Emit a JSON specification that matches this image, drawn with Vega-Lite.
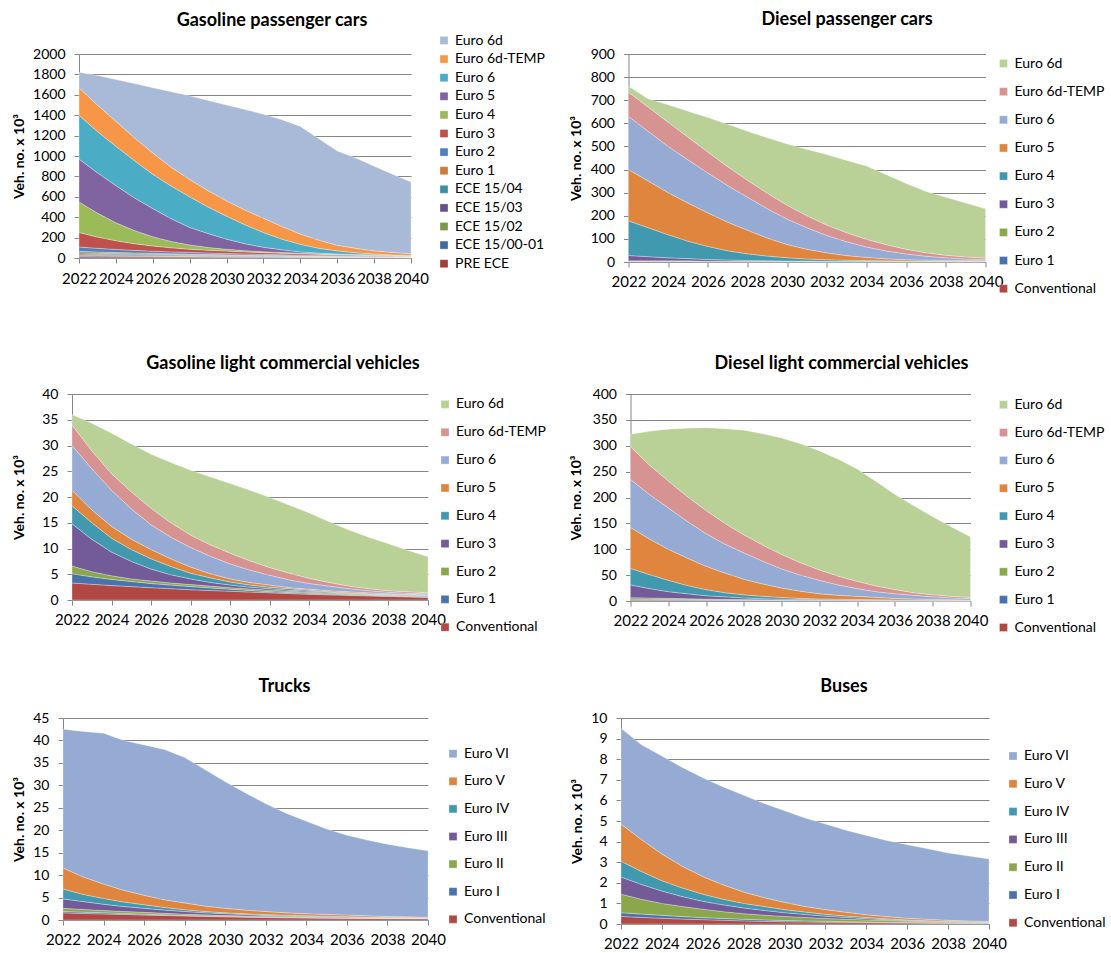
{
"$schema": "https://vega.github.io/schema/vega-lite/v6.json",
"padding": {"left": 11, "top": 11, "right": 0, "bottom": 0},
"background": "white",
"config": {
  "font": "Lato",
  "view": {"stroke": null},
  "axis": {"labelFont": "Lato", "labelFontSize": 14, "labelColor": "#000000", "titleFont": "Lato", "titleFontSize": 14, "titleFontWeight": "bold", "titleColor": "#000000", "domainColor": "#868686", "tickColor": "#868686", "gridColor": "#868686", "tickSize": 5, "domainWidth": 1, "tickWidth": 1, "gridWidth": 1},
  "axisX": {"grid": false, "labelPadding": 7, "labelFontSize": 15, "labelOverlap": false, "labelFlush": false, "labelExpr": "datum.value % 2 == 0 ? datum.label : ''", "format": "d", "values": [2022,2023,2024,2025,2026,2027,2028,2029,2030,2031,2032,2033,2034,2035,2036,2037,2038,2039,2040]},
  "axisY": {"grid": true, "labelPadding": 9, "labelOverlap": false, "format": "d"},
  "title": {"font": "Lato", "fontSize": 18, "fontWeight": "bold", "color": "#000000", "anchor": "middle", "frame": "group", "offset": 15},
  "legend": {"title": null, "orient": "none", "symbolType": "square", "symbolSize": 64, "symbolStrokeWidth": 0, "labelFont": "Lato", "labelFontSize": 14, "labelColor": "#000000", "labelOffset": 4},
  "area": {"stroke": "#ffffff", "strokeWidth": 0.5, "strokeOpacity": 0.6, "interpolate": "linear"}
},
"datasets": {
"gpc": [
{"s":"PRE ECE","k":0,"t":2022,"v":12},{"s":"PRE ECE","k":0,"t":2023,"v":11},{"s":"PRE ECE","k":0,"t":2024,"v":11},{"s":"PRE ECE","k":0,"t":2025,"v":10},{"s":"PRE ECE","k":0,"t":2026,"v":10},{"s":"PRE ECE","k":0,"t":2027,"v":9},{"s":"PRE ECE","k":0,"t":2028,"v":9},{"s":"PRE ECE","k":0,"t":2029,"v":8},{"s":"PRE ECE","k":0,"t":2030,"v":8},{"s":"PRE ECE","k":0,"t":2031,"v":7},{"s":"PRE ECE","k":0,"t":2032,"v":7},{"s":"PRE ECE","k":0,"t":2033,"v":6},{"s":"PRE ECE","k":0,"t":2034,"v":6},{"s":"PRE ECE","k":0,"t":2035,"v":5},{"s":"PRE ECE","k":0,"t":2036,"v":5},{"s":"PRE ECE","k":0,"t":2037,"v":4},{"s":"PRE ECE","k":0,"t":2038,"v":4},{"s":"PRE ECE","k":0,"t":2039,"v":4},{"s":"PRE ECE","k":0,"t":2040,"v":3},
{"s":"ECE 15/00-01","k":1,"t":2022,"v":8},{"s":"ECE 15/00-01","k":1,"t":2023,"v":8},{"s":"ECE 15/00-01","k":1,"t":2024,"v":7},{"s":"ECE 15/00-01","k":1,"t":2025,"v":7},{"s":"ECE 15/00-01","k":1,"t":2026,"v":6},{"s":"ECE 15/00-01","k":1,"t":2027,"v":6},{"s":"ECE 15/00-01","k":1,"t":2028,"v":5},{"s":"ECE 15/00-01","k":1,"t":2029,"v":5},{"s":"ECE 15/00-01","k":1,"t":2030,"v":5},{"s":"ECE 15/00-01","k":1,"t":2031,"v":4},{"s":"ECE 15/00-01","k":1,"t":2032,"v":4},{"s":"ECE 15/00-01","k":1,"t":2033,"v":4},{"s":"ECE 15/00-01","k":1,"t":2034,"v":3},{"s":"ECE 15/00-01","k":1,"t":2035,"v":3},{"s":"ECE 15/00-01","k":1,"t":2036,"v":3},{"s":"ECE 15/00-01","k":1,"t":2037,"v":2},{"s":"ECE 15/00-01","k":1,"t":2038,"v":2},{"s":"ECE 15/00-01","k":1,"t":2039,"v":2},{"s":"ECE 15/00-01","k":1,"t":2040,"v":2},
{"s":"ECE 15/02","k":2,"t":2022,"v":8},{"s":"ECE 15/02","k":2,"t":2023,"v":7},{"s":"ECE 15/02","k":2,"t":2024,"v":7},{"s":"ECE 15/02","k":2,"t":2025,"v":6},{"s":"ECE 15/02","k":2,"t":2026,"v":6},{"s":"ECE 15/02","k":2,"t":2027,"v":5},{"s":"ECE 15/02","k":2,"t":2028,"v":5},{"s":"ECE 15/02","k":2,"t":2029,"v":5},{"s":"ECE 15/02","k":2,"t":2030,"v":4},{"s":"ECE 15/02","k":2,"t":2031,"v":4},{"s":"ECE 15/02","k":2,"t":2032,"v":4},{"s":"ECE 15/02","k":2,"t":2033,"v":3},{"s":"ECE 15/02","k":2,"t":2034,"v":3},{"s":"ECE 15/02","k":2,"t":2035,"v":3},{"s":"ECE 15/02","k":2,"t":2036,"v":2},{"s":"ECE 15/02","k":2,"t":2037,"v":2},{"s":"ECE 15/02","k":2,"t":2038,"v":2},{"s":"ECE 15/02","k":2,"t":2039,"v":2},{"s":"ECE 15/02","k":2,"t":2040,"v":1},
{"s":"ECE 15/03","k":3,"t":2022,"v":10},{"s":"ECE 15/03","k":3,"t":2023,"v":9},{"s":"ECE 15/03","k":3,"t":2024,"v":8},{"s":"ECE 15/03","k":3,"t":2025,"v":8},{"s":"ECE 15/03","k":3,"t":2026,"v":7},{"s":"ECE 15/03","k":3,"t":2027,"v":7},{"s":"ECE 15/03","k":3,"t":2028,"v":6},{"s":"ECE 15/03","k":3,"t":2029,"v":6},{"s":"ECE 15/03","k":3,"t":2030,"v":5},{"s":"ECE 15/03","k":3,"t":2031,"v":5},{"s":"ECE 15/03","k":3,"t":2032,"v":4},{"s":"ECE 15/03","k":3,"t":2033,"v":4},{"s":"ECE 15/03","k":3,"t":2034,"v":3},{"s":"ECE 15/03","k":3,"t":2035,"v":3},{"s":"ECE 15/03","k":3,"t":2036,"v":3},{"s":"ECE 15/03","k":3,"t":2037,"v":2},{"s":"ECE 15/03","k":3,"t":2038,"v":2},{"s":"ECE 15/03","k":3,"t":2039,"v":2},{"s":"ECE 15/03","k":3,"t":2040,"v":1},
{"s":"ECE 15/04","k":4,"t":2022,"v":12},{"s":"ECE 15/04","k":4,"t":2023,"v":11},{"s":"ECE 15/04","k":4,"t":2024,"v":10},{"s":"ECE 15/04","k":4,"t":2025,"v":9},{"s":"ECE 15/04","k":4,"t":2026,"v":8},{"s":"ECE 15/04","k":4,"t":2027,"v":7},{"s":"ECE 15/04","k":4,"t":2028,"v":6},{"s":"ECE 15/04","k":4,"t":2029,"v":6},{"s":"ECE 15/04","k":4,"t":2030,"v":5},{"s":"ECE 15/04","k":4,"t":2031,"v":5},{"s":"ECE 15/04","k":4,"t":2032,"v":4},{"s":"ECE 15/04","k":4,"t":2033,"v":4},{"s":"ECE 15/04","k":4,"t":2034,"v":3},{"s":"ECE 15/04","k":4,"t":2035,"v":3},{"s":"ECE 15/04","k":4,"t":2036,"v":2},{"s":"ECE 15/04","k":4,"t":2037,"v":2},{"s":"ECE 15/04","k":4,"t":2038,"v":2},{"s":"ECE 15/04","k":4,"t":2039,"v":1},{"s":"ECE 15/04","k":4,"t":2040,"v":1},
{"s":"Euro 1","k":5,"t":2022,"v":15},{"s":"Euro 1","k":5,"t":2023,"v":13},{"s":"Euro 1","k":5,"t":2024,"v":11},{"s":"Euro 1","k":5,"t":2025,"v":10},{"s":"Euro 1","k":5,"t":2026,"v":9},{"s":"Euro 1","k":5,"t":2027,"v":8},{"s":"Euro 1","k":5,"t":2028,"v":7},{"s":"Euro 1","k":5,"t":2029,"v":6},{"s":"Euro 1","k":5,"t":2030,"v":5},{"s":"Euro 1","k":5,"t":2031,"v":4},{"s":"Euro 1","k":5,"t":2032,"v":4},{"s":"Euro 1","k":5,"t":2033,"v":3},{"s":"Euro 1","k":5,"t":2034,"v":3},{"s":"Euro 1","k":5,"t":2035,"v":2},{"s":"Euro 1","k":5,"t":2036,"v":2},{"s":"Euro 1","k":5,"t":2037,"v":2},{"s":"Euro 1","k":5,"t":2038,"v":1},{"s":"Euro 1","k":5,"t":2039,"v":1},{"s":"Euro 1","k":5,"t":2040,"v":1},
{"s":"Euro 2","k":6,"t":2022,"v":43},{"s":"Euro 2","k":6,"t":2023,"v":36},{"s":"Euro 2","k":6,"t":2024,"v":30},{"s":"Euro 2","k":6,"t":2025,"v":25},{"s":"Euro 2","k":6,"t":2026,"v":21},{"s":"Euro 2","k":6,"t":2027,"v":18},{"s":"Euro 2","k":6,"t":2028,"v":16},{"s":"Euro 2","k":6,"t":2029,"v":13},{"s":"Euro 2","k":6,"t":2030,"v":12},{"s":"Euro 2","k":6,"t":2031,"v":11},{"s":"Euro 2","k":6,"t":2032,"v":9},{"s":"Euro 2","k":6,"t":2033,"v":8},{"s":"Euro 2","k":6,"t":2034,"v":7},{"s":"Euro 2","k":6,"t":2035,"v":6},{"s":"Euro 2","k":6,"t":2036,"v":5},{"s":"Euro 2","k":6,"t":2037,"v":5},{"s":"Euro 2","k":6,"t":2038,"v":4},{"s":"Euro 2","k":6,"t":2039,"v":3},{"s":"Euro 2","k":6,"t":2040,"v":3},
{"s":"Euro 3","k":7,"t":2022,"v":142},{"s":"Euro 3","k":7,"t":2023,"v":110},{"s":"Euro 3","k":7,"t":2024,"v":86},{"s":"Euro 3","k":7,"t":2025,"v":65},{"s":"Euro 3","k":7,"t":2026,"v":51},{"s":"Euro 3","k":7,"t":2027,"v":40},{"s":"Euro 3","k":7,"t":2028,"v":33},{"s":"Euro 3","k":7,"t":2029,"v":28},{"s":"Euro 3","k":7,"t":2030,"v":24},{"s":"Euro 3","k":7,"t":2031,"v":20},{"s":"Euro 3","k":7,"t":2032,"v":17},{"s":"Euro 3","k":7,"t":2033,"v":15},{"s":"Euro 3","k":7,"t":2034,"v":13},{"s":"Euro 3","k":7,"t":2035,"v":11},{"s":"Euro 3","k":7,"t":2036,"v":9},{"s":"Euro 3","k":7,"t":2037,"v":8},{"s":"Euro 3","k":7,"t":2038,"v":6},{"s":"Euro 3","k":7,"t":2039,"v":4},{"s":"Euro 3","k":7,"t":2040,"v":3},
{"s":"Euro 4","k":8,"t":2022,"v":300},{"s":"Euro 4","k":8,"t":2023,"v":235},{"s":"Euro 4","k":8,"t":2024,"v":175},{"s":"Euro 4","k":8,"t":2025,"v":130},{"s":"Euro 4","k":8,"t":2026,"v":90},{"s":"Euro 4","k":8,"t":2027,"v":62},{"s":"Euro 4","k":8,"t":2028,"v":41},{"s":"Euro 4","k":8,"t":2029,"v":26},{"s":"Euro 4","k":8,"t":2030,"v":17},{"s":"Euro 4","k":8,"t":2031,"v":12},{"s":"Euro 4","k":8,"t":2032,"v":9},{"s":"Euro 4","k":8,"t":2033,"v":7},{"s":"Euro 4","k":8,"t":2034,"v":6},{"s":"Euro 4","k":8,"t":2035,"v":5},{"s":"Euro 4","k":8,"t":2036,"v":5},{"s":"Euro 4","k":8,"t":2037,"v":5},{"s":"Euro 4","k":8,"t":2038,"v":5},{"s":"Euro 4","k":8,"t":2039,"v":5},{"s":"Euro 4","k":8,"t":2040,"v":4},
{"s":"Euro 5","k":9,"t":2022,"v":420},{"s":"Euro 5","k":9,"t":2023,"v":395},{"s":"Euro 5","k":9,"t":2024,"v":365},{"s":"Euro 5","k":9,"t":2025,"v":320},{"s":"Euro 5","k":9,"t":2026,"v":277},{"s":"Euro 5","k":9,"t":2027,"v":223},{"s":"Euro 5","k":9,"t":2028,"v":172},{"s":"Euro 5","k":9,"t":2029,"v":137},{"s":"Euro 5","k":9,"t":2030,"v":100},{"s":"Euro 5","k":9,"t":2031,"v":68},{"s":"Euro 5","k":9,"t":2032,"v":43},{"s":"Euro 5","k":9,"t":2033,"v":26},{"s":"Euro 5","k":9,"t":2034,"v":13},{"s":"Euro 5","k":9,"t":2035,"v":7},{"s":"Euro 5","k":9,"t":2036,"v":4},{"s":"Euro 5","k":9,"t":2037,"v":3},{"s":"Euro 5","k":9,"t":2038,"v":3},{"s":"Euro 5","k":9,"t":2039,"v":3},{"s":"Euro 5","k":9,"t":2040,"v":3},
{"s":"Euro 6","k":10,"t":2022,"v":430},{"s":"Euro 6","k":10,"t":2023,"v":405},{"s":"Euro 6","k":10,"t":2024,"v":385},{"s":"Euro 6","k":10,"t":2025,"v":365},{"s":"Euro 6","k":10,"t":2026,"v":335},{"s":"Euro 6","k":10,"t":2027,"v":320},{"s":"Euro 6","k":10,"t":2028,"v":300},{"s":"Euro 6","k":10,"t":2029,"v":260},{"s":"Euro 6","k":10,"t":2030,"v":225},{"s":"Euro 6","k":10,"t":2031,"v":185},{"s":"Euro 6","k":10,"t":2032,"v":145},{"s":"Euro 6","k":10,"t":2033,"v":105},{"s":"Euro 6","k":10,"t":2034,"v":75},{"s":"Euro 6","k":10,"t":2035,"v":47},{"s":"Euro 6","k":10,"t":2036,"v":30},{"s":"Euro 6","k":10,"t":2037,"v":17},{"s":"Euro 6","k":10,"t":2038,"v":9},{"s":"Euro 6","k":10,"t":2039,"v":3},{"s":"Euro 6","k":10,"t":2040,"v":3},
{"s":"Euro 6d-TEMP","k":11,"t":2022,"v":270},{"s":"Euro 6d-TEMP","k":11,"t":2023,"v":260},{"s":"Euro 6d-TEMP","k":11,"t":2024,"v":245},{"s":"Euro 6d-TEMP","k":11,"t":2025,"v":225},{"s":"Euro 6d-TEMP","k":11,"t":2026,"v":210},{"s":"Euro 6d-TEMP","k":11,"t":2027,"v":185},{"s":"Euro 6d-TEMP","k":11,"t":2028,"v":170},{"s":"Euro 6d-TEMP","k":11,"t":2029,"v":160},{"s":"Euro 6d-TEMP","k":11,"t":2030,"v":150},{"s":"Euro 6d-TEMP","k":11,"t":2031,"v":145},{"s":"Euro 6d-TEMP","k":11,"t":2032,"v":140},{"s":"Euro 6d-TEMP","k":11,"t":2033,"v":125},{"s":"Euro 6d-TEMP","k":11,"t":2034,"v":100},{"s":"Euro 6d-TEMP","k":11,"t":2035,"v":80},{"s":"Euro 6d-TEMP","k":11,"t":2036,"v":55},{"s":"Euro 6d-TEMP","k":11,"t":2037,"v":43},{"s":"Euro 6d-TEMP","k":11,"t":2038,"v":30},{"s":"Euro 6d-TEMP","k":11,"t":2039,"v":25},{"s":"Euro 6d-TEMP","k":11,"t":2040,"v":17},
{"s":"Euro 6d","k":12,"t":2022,"v":150},{"s":"Euro 6d","k":12,"t":2023,"v":290},{"s":"Euro 6d","k":12,"t":2024,"v":410},{"s":"Euro 6d","k":12,"t":2025,"v":530},{"s":"Euro 6d","k":12,"t":2026,"v":640},{"s":"Euro 6d","k":12,"t":2027,"v":740},{"s":"Euro 6d","k":12,"t":2028,"v":820},{"s":"Euro 6d","k":12,"t":2029,"v":885},{"s":"Euro 6d","k":12,"t":2030,"v":940},{"s":"Euro 6d","k":12,"t":2031,"v":985},{"s":"Euro 6d","k":12,"t":2032,"v":1020},{"s":"Euro 6d","k":12,"t":2033,"v":1045},{"s":"Euro 6d","k":12,"t":2034,"v":1055},{"s":"Euro 6d","k":12,"t":2035,"v":995},{"s":"Euro 6d","k":12,"t":2036,"v":925},{"s":"Euro 6d","k":12,"t":2037,"v":885},{"s":"Euro 6d","k":12,"t":2038,"v":830},{"s":"Euro 6d","k":12,"t":2039,"v":765},{"s":"Euro 6d","k":12,"t":2040,"v":703}
],
"dpc": [
{"s":"Conventional","k":0,"t":2022,"v":2},{"s":"Conventional","k":0,"t":2023,"v":2},{"s":"Conventional","k":0,"t":2024,"v":2},{"s":"Conventional","k":0,"t":2025,"v":2},{"s":"Conventional","k":0,"t":2026,"v":1},{"s":"Conventional","k":0,"t":2027,"v":1},{"s":"Conventional","k":0,"t":2028,"v":1},{"s":"Conventional","k":0,"t":2029,"v":1},{"s":"Conventional","k":0,"t":2030,"v":1},{"s":"Conventional","k":0,"t":2031,"v":1},{"s":"Conventional","k":0,"t":2032,"v":1},{"s":"Conventional","k":0,"t":2033,"v":1},{"s":"Conventional","k":0,"t":2034,"v":1},{"s":"Conventional","k":0,"t":2035,"v":1},{"s":"Conventional","k":0,"t":2036,"v":1},{"s":"Conventional","k":0,"t":2037,"v":1},{"s":"Conventional","k":0,"t":2038,"v":1},{"s":"Conventional","k":0,"t":2039,"v":1},{"s":"Conventional","k":0,"t":2040,"v":1},
{"s":"Euro 1","k":1,"t":2022,"v":1},{"s":"Euro 1","k":1,"t":2023,"v":1},{"s":"Euro 1","k":1,"t":2024,"v":1},{"s":"Euro 1","k":1,"t":2025,"v":1},{"s":"Euro 1","k":1,"t":2026,"v":1},{"s":"Euro 1","k":1,"t":2027,"v":1},{"s":"Euro 1","k":1,"t":2028,"v":1},{"s":"Euro 1","k":1,"t":2029,"v":1},{"s":"Euro 1","k":1,"t":2030,"v":1},{"s":"Euro 1","k":1,"t":2031,"v":1},{"s":"Euro 1","k":1,"t":2032,"v":0.5},{"s":"Euro 1","k":1,"t":2033,"v":0.5},{"s":"Euro 1","k":1,"t":2034,"v":0.5},{"s":"Euro 1","k":1,"t":2035,"v":0.5},{"s":"Euro 1","k":1,"t":2036,"v":0.5},{"s":"Euro 1","k":1,"t":2037,"v":0.5},{"s":"Euro 1","k":1,"t":2038,"v":0.5},{"s":"Euro 1","k":1,"t":2039,"v":0.5},{"s":"Euro 1","k":1,"t":2040,"v":0.5},
{"s":"Euro 2","k":2,"t":2022,"v":2},{"s":"Euro 2","k":2,"t":2023,"v":2},{"s":"Euro 2","k":2,"t":2024,"v":2},{"s":"Euro 2","k":2,"t":2025,"v":2},{"s":"Euro 2","k":2,"t":2026,"v":1.5},{"s":"Euro 2","k":2,"t":2027,"v":1.5},{"s":"Euro 2","k":2,"t":2028,"v":1},{"s":"Euro 2","k":2,"t":2029,"v":1},{"s":"Euro 2","k":2,"t":2030,"v":1},{"s":"Euro 2","k":2,"t":2031,"v":1},{"s":"Euro 2","k":2,"t":2032,"v":0.5},{"s":"Euro 2","k":2,"t":2033,"v":0.5},{"s":"Euro 2","k":2,"t":2034,"v":0.5},{"s":"Euro 2","k":2,"t":2035,"v":0.5},{"s":"Euro 2","k":2,"t":2036,"v":0.5},{"s":"Euro 2","k":2,"t":2037,"v":0.5},{"s":"Euro 2","k":2,"t":2038,"v":0.5},{"s":"Euro 2","k":2,"t":2039,"v":0.5},{"s":"Euro 2","k":2,"t":2040,"v":0.5},
{"s":"Euro 3","k":3,"t":2022,"v":23},{"s":"Euro 3","k":3,"t":2023,"v":18},{"s":"Euro 3","k":3,"t":2024,"v":13},{"s":"Euro 3","k":3,"t":2025,"v":10},{"s":"Euro 3","k":3,"t":2026,"v":7},{"s":"Euro 3","k":3,"t":2027,"v":5},{"s":"Euro 3","k":3,"t":2028,"v":3.5},{"s":"Euro 3","k":3,"t":2029,"v":2.5},{"s":"Euro 3","k":3,"t":2030,"v":1.5},{"s":"Euro 3","k":3,"t":2031,"v":1},{"s":"Euro 3","k":3,"t":2032,"v":0.8},{"s":"Euro 3","k":3,"t":2033,"v":0.6},{"s":"Euro 3","k":3,"t":2034,"v":0.5},{"s":"Euro 3","k":3,"t":2035,"v":0.4},{"s":"Euro 3","k":3,"t":2036,"v":0.3},{"s":"Euro 3","k":3,"t":2037,"v":0.3},{"s":"Euro 3","k":3,"t":2038,"v":0.2},{"s":"Euro 3","k":3,"t":2039,"v":0.2},{"s":"Euro 3","k":3,"t":2040,"v":0.2},
{"s":"Euro 4","k":4,"t":2022,"v":150},{"s":"Euro 4","k":4,"t":2023,"v":125},{"s":"Euro 4","k":4,"t":2024,"v":100},{"s":"Euro 4","k":4,"t":2025,"v":75},{"s":"Euro 4","k":4,"t":2026,"v":57},{"s":"Euro 4","k":4,"t":2027,"v":40},{"s":"Euro 4","k":4,"t":2028,"v":29},{"s":"Euro 4","k":4,"t":2029,"v":20},{"s":"Euro 4","k":4,"t":2030,"v":14},{"s":"Euro 4","k":4,"t":2031,"v":9},{"s":"Euro 4","k":4,"t":2032,"v":7},{"s":"Euro 4","k":4,"t":2033,"v":5},{"s":"Euro 4","k":4,"t":2034,"v":3.5},{"s":"Euro 4","k":4,"t":2035,"v":2.6},{"s":"Euro 4","k":4,"t":2036,"v":1.7},{"s":"Euro 4","k":4,"t":2037,"v":1.7},{"s":"Euro 4","k":4,"t":2038,"v":0.8},{"s":"Euro 4","k":4,"t":2039,"v":0.8},{"s":"Euro 4","k":4,"t":2040,"v":0.8},
{"s":"Euro 5","k":5,"t":2022,"v":222},{"s":"Euro 5","k":5,"t":2023,"v":202},{"s":"Euro 5","k":5,"t":2024,"v":182},{"s":"Euro 5","k":5,"t":2025,"v":165},{"s":"Euro 5","k":5,"t":2026,"v":145},{"s":"Euro 5","k":5,"t":2027,"v":124},{"s":"Euro 5","k":5,"t":2028,"v":102},{"s":"Euro 5","k":5,"t":2029,"v":78},{"s":"Euro 5","k":5,"t":2030,"v":57},{"s":"Euro 5","k":5,"t":2031,"v":42},{"s":"Euro 5","k":5,"t":2032,"v":30},{"s":"Euro 5","k":5,"t":2033,"v":20},{"s":"Euro 5","k":5,"t":2034,"v":14},{"s":"Euro 5","k":5,"t":2035,"v":9},{"s":"Euro 5","k":5,"t":2036,"v":6},{"s":"Euro 5","k":5,"t":2037,"v":4},{"s":"Euro 5","k":5,"t":2038,"v":4},{"s":"Euro 5","k":5,"t":2039,"v":3},{"s":"Euro 5","k":5,"t":2040,"v":2},
{"s":"Euro 6","k":6,"t":2022,"v":230},{"s":"Euro 6","k":6,"t":2023,"v":215},{"s":"Euro 6","k":6,"t":2024,"v":200},{"s":"Euro 6","k":6,"t":2025,"v":187},{"s":"Euro 6","k":6,"t":2026,"v":173},{"s":"Euro 6","k":6,"t":2027,"v":158},{"s":"Euro 6","k":6,"t":2028,"v":143},{"s":"Euro 6","k":6,"t":2029,"v":127},{"s":"Euro 6","k":6,"t":2030,"v":110},{"s":"Euro 6","k":6,"t":2031,"v":93},{"s":"Euro 6","k":6,"t":2032,"v":75},{"s":"Euro 6","k":6,"t":2033,"v":60},{"s":"Euro 6","k":6,"t":2034,"v":45},{"s":"Euro 6","k":6,"t":2035,"v":34},{"s":"Euro 6","k":6,"t":2036,"v":25},{"s":"Euro 6","k":6,"t":2037,"v":17},{"s":"Euro 6","k":6,"t":2038,"v":11},{"s":"Euro 6","k":6,"t":2039,"v":7},{"s":"Euro 6","k":6,"t":2040,"v":5},
{"s":"Euro 6d-TEMP","k":7,"t":2022,"v":105},{"s":"Euro 6d-TEMP","k":7,"t":2023,"v":105},{"s":"Euro 6d-TEMP","k":7,"t":2024,"v":105},{"s":"Euro 6d-TEMP","k":7,"t":2025,"v":98},{"s":"Euro 6d-TEMP","k":7,"t":2026,"v":90},{"s":"Euro 6d-TEMP","k":7,"t":2027,"v":82},{"s":"Euro 6d-TEMP","k":7,"t":2028,"v":73},{"s":"Euro 6d-TEMP","k":7,"t":2029,"v":67},{"s":"Euro 6d-TEMP","k":7,"t":2030,"v":60},{"s":"Euro 6d-TEMP","k":7,"t":2031,"v":52},{"s":"Euro 6d-TEMP","k":7,"t":2032,"v":45},{"s":"Euro 6d-TEMP","k":7,"t":2033,"v":39},{"s":"Euro 6d-TEMP","k":7,"t":2034,"v":33},{"s":"Euro 6d-TEMP","k":7,"t":2035,"v":27},{"s":"Euro 6d-TEMP","k":7,"t":2036,"v":20},{"s":"Euro 6d-TEMP","k":7,"t":2037,"v":15},{"s":"Euro 6d-TEMP","k":7,"t":2038,"v":11},{"s":"Euro 6d-TEMP","k":7,"t":2039,"v":9},{"s":"Euro 6d-TEMP","k":7,"t":2040,"v":7},
{"s":"Euro 6d","k":8,"t":2022,"v":25},{"s":"Euro 6d","k":8,"t":2023,"v":35},{"s":"Euro 6d","k":8,"t":2024,"v":75},{"s":"Euro 6d","k":8,"t":2025,"v":112},{"s":"Euro 6d","k":8,"t":2026,"v":150},{"s":"Euro 6d","k":8,"t":2027,"v":183},{"s":"Euro 6d","k":8,"t":2028,"v":212},{"s":"Euro 6d","k":8,"t":2029,"v":240},{"s":"Euro 6d","k":8,"t":2030,"v":265},{"s":"Euro 6d","k":8,"t":2031,"v":287},{"s":"Euro 6d","k":8,"t":2032,"v":305},{"s":"Euro 6d","k":8,"t":2033,"v":313},{"s":"Euro 6d","k":8,"t":2034,"v":317},{"s":"Euro 6d","k":8,"t":2035,"v":303},{"s":"Euro 6d","k":8,"t":2036,"v":285},{"s":"Euro 6d","k":8,"t":2037,"v":265},{"s":"Euro 6d","k":8,"t":2038,"v":251},{"s":"Euro 6d","k":8,"t":2039,"v":233},{"s":"Euro 6d","k":8,"t":2040,"v":213}
],
"glcv": [
{"s":"Conventional","k":0,"t":2022,"v":3.3},{"s":"Conventional","k":0,"t":2023,"v":3.05},{"s":"Conventional","k":0,"t":2024,"v":2.8},{"s":"Conventional","k":0,"t":2025,"v":2.6},{"s":"Conventional","k":0,"t":2026,"v":2.4},{"s":"Conventional","k":0,"t":2027,"v":2.2},{"s":"Conventional","k":0,"t":2028,"v":2.0},{"s":"Conventional","k":0,"t":2029,"v":1.85},{"s":"Conventional","k":0,"t":2030,"v":1.7},{"s":"Conventional","k":0,"t":2031,"v":1.55},{"s":"Conventional","k":0,"t":2032,"v":1.4},{"s":"Conventional","k":0,"t":2033,"v":1.25},{"s":"Conventional","k":0,"t":2034,"v":1.1},{"s":"Conventional","k":0,"t":2035,"v":1.0},{"s":"Conventional","k":0,"t":2036,"v":0.9},{"s":"Conventional","k":0,"t":2037,"v":0.8},{"s":"Conventional","k":0,"t":2038,"v":0.7},{"s":"Conventional","k":0,"t":2039,"v":0.6},{"s":"Conventional","k":0,"t":2040,"v":0.5},
{"s":"Euro 1","k":1,"t":2022,"v":1.8},{"s":"Euro 1","k":1,"t":2023,"v":1.45},{"s":"Euro 1","k":1,"t":2024,"v":1.2},{"s":"Euro 1","k":1,"t":2025,"v":1.0},{"s":"Euro 1","k":1,"t":2026,"v":0.8},{"s":"Euro 1","k":1,"t":2027,"v":0.7},{"s":"Euro 1","k":1,"t":2028,"v":0.6},{"s":"Euro 1","k":1,"t":2029,"v":0.5},{"s":"Euro 1","k":1,"t":2030,"v":0.4},{"s":"Euro 1","k":1,"t":2031,"v":0.3},{"s":"Euro 1","k":1,"t":2032,"v":0.2},{"s":"Euro 1","k":1,"t":2033,"v":0.2},{"s":"Euro 1","k":1,"t":2034,"v":0.2},{"s":"Euro 1","k":1,"t":2035,"v":0.15},{"s":"Euro 1","k":1,"t":2036,"v":0.1},{"s":"Euro 1","k":1,"t":2037,"v":0.1},{"s":"Euro 1","k":1,"t":2038,"v":0.1},{"s":"Euro 1","k":1,"t":2039,"v":0.1},{"s":"Euro 1","k":1,"t":2040,"v":0.1},
{"s":"Euro 2","k":2,"t":2022,"v":1.5},{"s":"Euro 2","k":2,"t":2023,"v":1.0},{"s":"Euro 2","k":2,"t":2024,"v":0.7},{"s":"Euro 2","k":2,"t":2025,"v":0.5},{"s":"Euro 2","k":2,"t":2026,"v":0.5},{"s":"Euro 2","k":2,"t":2027,"v":0.4},{"s":"Euro 2","k":2,"t":2028,"v":0.4},{"s":"Euro 2","k":2,"t":2029,"v":0.35},{"s":"Euro 2","k":2,"t":2030,"v":0.3},{"s":"Euro 2","k":2,"t":2031,"v":0.3},{"s":"Euro 2","k":2,"t":2032,"v":0.3},{"s":"Euro 2","k":2,"t":2033,"v":0.25},{"s":"Euro 2","k":2,"t":2034,"v":0.2},{"s":"Euro 2","k":2,"t":2035,"v":0.2},{"s":"Euro 2","k":2,"t":2036,"v":0.2},{"s":"Euro 2","k":2,"t":2037,"v":0.15},{"s":"Euro 2","k":2,"t":2038,"v":0.1},{"s":"Euro 2","k":2,"t":2039,"v":0.1},{"s":"Euro 2","k":2,"t":2040,"v":0.1},
{"s":"Euro 3","k":3,"t":2022,"v":8.2},{"s":"Euro 3","k":3,"t":2023,"v":6.3},{"s":"Euro 3","k":3,"t":2024,"v":4.6},{"s":"Euro 3","k":3,"t":2025,"v":3.4},{"s":"Euro 3","k":3,"t":2026,"v":2.3},{"s":"Euro 3","k":3,"t":2027,"v":1.6},{"s":"Euro 3","k":3,"t":2028,"v":1.1},{"s":"Euro 3","k":3,"t":2029,"v":0.7},{"s":"Euro 3","k":3,"t":2030,"v":0.5},{"s":"Euro 3","k":3,"t":2031,"v":0.35},{"s":"Euro 3","k":3,"t":2032,"v":0.3},{"s":"Euro 3","k":3,"t":2033,"v":0.2},{"s":"Euro 3","k":3,"t":2034,"v":0.2},{"s":"Euro 3","k":3,"t":2035,"v":0.15},{"s":"Euro 3","k":3,"t":2036,"v":0.1},{"s":"Euro 3","k":3,"t":2037,"v":0.1},{"s":"Euro 3","k":3,"t":2038,"v":0.1},{"s":"Euro 3","k":3,"t":2039,"v":0.1},{"s":"Euro 3","k":3,"t":2040,"v":0.1},
{"s":"Euro 4","k":4,"t":2022,"v":3.5},{"s":"Euro 4","k":4,"t":2023,"v":3.2},{"s":"Euro 4","k":4,"t":2024,"v":2.7},{"s":"Euro 4","k":4,"t":2025,"v":2.3},{"s":"Euro 4","k":4,"t":2026,"v":2.0},{"s":"Euro 4","k":4,"t":2027,"v":1.6},{"s":"Euro 4","k":4,"t":2028,"v":1.1},{"s":"Euro 4","k":4,"t":2029,"v":0.9},{"s":"Euro 4","k":4,"t":2030,"v":0.6},{"s":"Euro 4","k":4,"t":2031,"v":0.4},{"s":"Euro 4","k":4,"t":2032,"v":0.3},{"s":"Euro 4","k":4,"t":2033,"v":0.3},{"s":"Euro 4","k":4,"t":2034,"v":0.2},{"s":"Euro 4","k":4,"t":2035,"v":0.1},{"s":"Euro 4","k":4,"t":2036,"v":0.1},{"s":"Euro 4","k":4,"t":2037,"v":0.05},{"s":"Euro 4","k":4,"t":2038,"v":0.1},{"s":"Euro 4","k":4,"t":2039,"v":0.1},{"s":"Euro 4","k":4,"t":2040,"v":0.1},
{"s":"Euro 5","k":5,"t":2022,"v":3.0},{"s":"Euro 5","k":5,"t":2023,"v":2.5},{"s":"Euro 5","k":5,"t":2024,"v":2.3},{"s":"Euro 5","k":5,"t":2025,"v":2.0},{"s":"Euro 5","k":5,"t":2026,"v":1.8},{"s":"Euro 5","k":5,"t":2027,"v":1.5},{"s":"Euro 5","k":5,"t":2028,"v":1.2},{"s":"Euro 5","k":5,"t":2029,"v":0.8},{"s":"Euro 5","k":5,"t":2030,"v":0.6},{"s":"Euro 5","k":5,"t":2031,"v":0.5},{"s":"Euro 5","k":5,"t":2032,"v":0.4},{"s":"Euro 5","k":5,"t":2033,"v":0.2},{"s":"Euro 5","k":5,"t":2034,"v":0.2},{"s":"Euro 5","k":5,"t":2035,"v":0.2},{"s":"Euro 5","k":5,"t":2036,"v":0.2},{"s":"Euro 5","k":5,"t":2037,"v":0.2},{"s":"Euro 5","k":5,"t":2038,"v":0.1},{"s":"Euro 5","k":5,"t":2039,"v":0.1},{"s":"Euro 5","k":5,"t":2040,"v":0.1},
{"s":"Euro 6","k":6,"t":2022,"v":8.7},{"s":"Euro 6","k":6,"t":2023,"v":8.0},{"s":"Euro 6","k":6,"t":2024,"v":7.0},{"s":"Euro 6","k":6,"t":2025,"v":5.9},{"s":"Euro 6","k":6,"t":2026,"v":4.8},{"s":"Euro 6","k":6,"t":2027,"v":4.2},{"s":"Euro 6","k":6,"t":2028,"v":3.8},{"s":"Euro 6","k":6,"t":2029,"v":3.4},{"s":"Euro 6","k":6,"t":2030,"v":2.9},{"s":"Euro 6","k":6,"t":2031,"v":2.4},{"s":"Euro 6","k":6,"t":2032,"v":1.9},{"s":"Euro 6","k":6,"t":2033,"v":1.5},{"s":"Euro 6","k":6,"t":2034,"v":1.1},{"s":"Euro 6","k":6,"t":2035,"v":0.9},{"s":"Euro 6","k":6,"t":2036,"v":0.6},{"s":"Euro 6","k":6,"t":2037,"v":0.4},{"s":"Euro 6","k":6,"t":2038,"v":0.3},{"s":"Euro 6","k":6,"t":2039,"v":0.2},{"s":"Euro 6","k":6,"t":2040,"v":0.2},
{"s":"Euro 6d-TEMP","k":7,"t":2022,"v":4.0},{"s":"Euro 6d-TEMP","k":7,"t":2023,"v":3.5},{"s":"Euro 6d-TEMP","k":7,"t":2024,"v":3.2},{"s":"Euro 6d-TEMP","k":7,"t":2025,"v":3.3},{"s":"Euro 6d-TEMP","k":7,"t":2026,"v":3.2},{"s":"Euro 6d-TEMP","k":7,"t":2027,"v":2.8},{"s":"Euro 6d-TEMP","k":7,"t":2028,"v":2.4},{"s":"Euro 6d-TEMP","k":7,"t":2029,"v":2.2},{"s":"Euro 6d-TEMP","k":7,"t":2030,"v":2.1},{"s":"Euro 6d-TEMP","k":7,"t":2031,"v":1.8},{"s":"Euro 6d-TEMP","k":7,"t":2032,"v":1.5},{"s":"Euro 6d-TEMP","k":7,"t":2033,"v":1.3},{"s":"Euro 6d-TEMP","k":7,"t":2034,"v":1.0},{"s":"Euro 6d-TEMP","k":7,"t":2035,"v":0.7},{"s":"Euro 6d-TEMP","k":7,"t":2036,"v":0.5},{"s":"Euro 6d-TEMP","k":7,"t":2037,"v":0.4},{"s":"Euro 6d-TEMP","k":7,"t":2038,"v":0.3},{"s":"Euro 6d-TEMP","k":7,"t":2039,"v":0.3},{"s":"Euro 6d-TEMP","k":7,"t":2040,"v":0.2},
{"s":"Euro 6d","k":8,"t":2022,"v":2.0},{"s":"Euro 6d","k":8,"t":2023,"v":5.3},{"s":"Euro 6d","k":8,"t":2024,"v":7.9},{"s":"Euro 6d","k":8,"t":2025,"v":9.3},{"s":"Euro 6d","k":8,"t":2026,"v":10.5},{"s":"Euro 6d","k":8,"t":2027,"v":11.7},{"s":"Euro 6d","k":8,"t":2028,"v":12.6},{"s":"Euro 6d","k":8,"t":2029,"v":13.2},{"s":"Euro 6d","k":8,"t":2030,"v":13.5},{"s":"Euro 6d","k":8,"t":2031,"v":13.7},{"s":"Euro 6d","k":8,"t":2032,"v":13.6},{"s":"Euro 6d","k":8,"t":2033,"v":13.2},{"s":"Euro 6d","k":8,"t":2034,"v":12.7},{"s":"Euro 6d","k":8,"t":2035,"v":11.8},{"s":"Euro 6d","k":8,"t":2036,"v":10.9},{"s":"Euro 6d","k":8,"t":2037,"v":10.0},{"s":"Euro 6d","k":8,"t":2038,"v":9.1},{"s":"Euro 6d","k":8,"t":2039,"v":8.0},{"s":"Euro 6d","k":8,"t":2040,"v":7.0}
],
"dlcv": [
{"s":"Conventional","k":0,"t":2022,"v":1.5},{"s":"Conventional","k":0,"t":2023,"v":1.4},{"s":"Conventional","k":0,"t":2024,"v":1.3},{"s":"Conventional","k":0,"t":2025,"v":1.2},{"s":"Conventional","k":0,"t":2026,"v":1.1},{"s":"Conventional","k":0,"t":2027,"v":1.0},{"s":"Conventional","k":0,"t":2028,"v":0.9},{"s":"Conventional","k":0,"t":2029,"v":0.8},{"s":"Conventional","k":0,"t":2030,"v":0.7},{"s":"Conventional","k":0,"t":2031,"v":0.6},{"s":"Conventional","k":0,"t":2032,"v":0.5},{"s":"Conventional","k":0,"t":2033,"v":0.5},{"s":"Conventional","k":0,"t":2034,"v":0.4},{"s":"Conventional","k":0,"t":2035,"v":0.4},{"s":"Conventional","k":0,"t":2036,"v":0.3},{"s":"Conventional","k":0,"t":2037,"v":0.3},{"s":"Conventional","k":0,"t":2038,"v":0.3},{"s":"Conventional","k":0,"t":2039,"v":0.2},{"s":"Conventional","k":0,"t":2040,"v":0.2},
{"s":"Euro 1","k":1,"t":2022,"v":2},{"s":"Euro 1","k":1,"t":2023,"v":1.8},{"s":"Euro 1","k":1,"t":2024,"v":1.6},{"s":"Euro 1","k":1,"t":2025,"v":1.4},{"s":"Euro 1","k":1,"t":2026,"v":1.2},{"s":"Euro 1","k":1,"t":2027,"v":1.0},{"s":"Euro 1","k":1,"t":2028,"v":0.8},{"s":"Euro 1","k":1,"t":2029,"v":0.7},{"s":"Euro 1","k":1,"t":2030,"v":0.6},{"s":"Euro 1","k":1,"t":2031,"v":0.5},{"s":"Euro 1","k":1,"t":2032,"v":0.4},{"s":"Euro 1","k":1,"t":2033,"v":0.35},{"s":"Euro 1","k":1,"t":2034,"v":0.3},{"s":"Euro 1","k":1,"t":2035,"v":0.25},{"s":"Euro 1","k":1,"t":2036,"v":0.2},{"s":"Euro 1","k":1,"t":2037,"v":0.2},{"s":"Euro 1","k":1,"t":2038,"v":0.2},{"s":"Euro 1","k":1,"t":2039,"v":0.2},{"s":"Euro 1","k":1,"t":2040,"v":0.2},
{"s":"Euro 2","k":2,"t":2022,"v":3},{"s":"Euro 2","k":2,"t":2023,"v":2.6},{"s":"Euro 2","k":2,"t":2024,"v":2.2},{"s":"Euro 2","k":2,"t":2025,"v":1.8},{"s":"Euro 2","k":2,"t":2026,"v":1.5},{"s":"Euro 2","k":2,"t":2027,"v":1.2},{"s":"Euro 2","k":2,"t":2028,"v":1.0},{"s":"Euro 2","k":2,"t":2029,"v":0.8},{"s":"Euro 2","k":2,"t":2030,"v":0.6},{"s":"Euro 2","k":2,"t":2031,"v":0.5},{"s":"Euro 2","k":2,"t":2032,"v":0.4},{"s":"Euro 2","k":2,"t":2033,"v":0.3},{"s":"Euro 2","k":2,"t":2034,"v":0.3},{"s":"Euro 2","k":2,"t":2035,"v":0.2},{"s":"Euro 2","k":2,"t":2036,"v":0.2},{"s":"Euro 2","k":2,"t":2037,"v":0.2},{"s":"Euro 2","k":2,"t":2038,"v":0.2},{"s":"Euro 2","k":2,"t":2039,"v":0.2},{"s":"Euro 2","k":2,"t":2040,"v":0.2},
{"s":"Euro 3","k":3,"t":2022,"v":24.5},{"s":"Euro 3","k":3,"t":2023,"v":18.2},{"s":"Euro 3","k":3,"t":2024,"v":12.9},{"s":"Euro 3","k":3,"t":2025,"v":9.6},{"s":"Euro 3","k":3,"t":2026,"v":6.2},{"s":"Euro 3","k":3,"t":2027,"v":4.8},{"s":"Euro 3","k":3,"t":2028,"v":3.3},{"s":"Euro 3","k":3,"t":2029,"v":2.2},{"s":"Euro 3","k":3,"t":2030,"v":1.6},{"s":"Euro 3","k":3,"t":2031,"v":1.4},{"s":"Euro 3","k":3,"t":2032,"v":1.2},{"s":"Euro 3","k":3,"t":2033,"v":0.9},{"s":"Euro 3","k":3,"t":2034,"v":1.0},{"s":"Euro 3","k":3,"t":2035,"v":0.7},{"s":"Euro 3","k":3,"t":2036,"v":0.8},{"s":"Euro 3","k":3,"t":2037,"v":0.5},{"s":"Euro 3","k":3,"t":2038,"v":0.5},{"s":"Euro 3","k":3,"t":2039,"v":0.4},{"s":"Euro 3","k":3,"t":2040,"v":0.4},
{"s":"Euro 4","k":4,"t":2022,"v":32},{"s":"Euro 4","k":4,"t":2023,"v":27},{"s":"Euro 4","k":4,"t":2024,"v":22},{"s":"Euro 4","k":4,"t":2025,"v":16},{"s":"Euro 4","k":4,"t":2026,"v":12},{"s":"Euro 4","k":4,"t":2027,"v":8},{"s":"Euro 4","k":4,"t":2028,"v":6},{"s":"Euro 4","k":4,"t":2029,"v":4.5},{"s":"Euro 4","k":4,"t":2030,"v":3.5},{"s":"Euro 4","k":4,"t":2031,"v":2},{"s":"Euro 4","k":4,"t":2032,"v":1.5},{"s":"Euro 4","k":4,"t":2033,"v":1.5},{"s":"Euro 4","k":4,"t":2034,"v":1},{"s":"Euro 4","k":4,"t":2035,"v":1},{"s":"Euro 4","k":4,"t":2036,"v":0.5},{"s":"Euro 4","k":4,"t":2037,"v":0.8},{"s":"Euro 4","k":4,"t":2038,"v":0.3},{"s":"Euro 4","k":4,"t":2039,"v":0.5},{"s":"Euro 4","k":4,"t":2040,"v":0.5},
{"s":"Euro 5","k":5,"t":2022,"v":79},{"s":"Euro 5","k":5,"t":2023,"v":69},{"s":"Euro 5","k":5,"t":2024,"v":60},{"s":"Euro 5","k":5,"t":2025,"v":53},{"s":"Euro 5","k":5,"t":2026,"v":45},{"s":"Euro 5","k":5,"t":2027,"v":38},{"s":"Euro 5","k":5,"t":2028,"v":30},{"s":"Euro 5","k":5,"t":2029,"v":24},{"s":"Euro 5","k":5,"t":2030,"v":18},{"s":"Euro 5","k":5,"t":2031,"v":14},{"s":"Euro 5","k":5,"t":2032,"v":10},{"s":"Euro 5","k":5,"t":2033,"v":7.5},{"s":"Euro 5","k":5,"t":2034,"v":6},{"s":"Euro 5","k":5,"t":2035,"v":4.5},{"s":"Euro 5","k":5,"t":2036,"v":3},{"s":"Euro 5","k":5,"t":2037,"v":2},{"s":"Euro 5","k":5,"t":2038,"v":1.5},{"s":"Euro 5","k":5,"t":2039,"v":1},{"s":"Euro 5","k":5,"t":2040,"v":0.5},
{"s":"Euro 6","k":6,"t":2022,"v":93},{"s":"Euro 6","k":6,"t":2023,"v":86},{"s":"Euro 6","k":6,"t":2024,"v":80},{"s":"Euro 6","k":6,"t":2025,"v":71},{"s":"Euro 6","k":6,"t":2026,"v":63},{"s":"Euro 6","k":6,"t":2027,"v":56},{"s":"Euro 6","k":6,"t":2028,"v":51},{"s":"Euro 6","k":6,"t":2029,"v":44},{"s":"Euro 6","k":6,"t":2030,"v":37},{"s":"Euro 6","k":6,"t":2031,"v":31},{"s":"Euro 6","k":6,"t":2032,"v":26},{"s":"Euro 6","k":6,"t":2033,"v":20},{"s":"Euro 6","k":6,"t":2034,"v":15},{"s":"Euro 6","k":6,"t":2035,"v":11},{"s":"Euro 6","k":6,"t":2036,"v":9},{"s":"Euro 6","k":6,"t":2037,"v":7},{"s":"Euro 6","k":6,"t":2038,"v":5},{"s":"Euro 6","k":6,"t":2039,"v":3.5},{"s":"Euro 6","k":6,"t":2040,"v":3},
{"s":"Euro 6d-TEMP","k":7,"t":2022,"v":63},{"s":"Euro 6d-TEMP","k":7,"t":2023,"v":57},{"s":"Euro 6d-TEMP","k":7,"t":2024,"v":52},{"s":"Euro 6d-TEMP","k":7,"t":2025,"v":48},{"s":"Euro 6d-TEMP","k":7,"t":2026,"v":45},{"s":"Euro 6d-TEMP","k":7,"t":2027,"v":40},{"s":"Euro 6d-TEMP","k":7,"t":2028,"v":35},{"s":"Euro 6d-TEMP","k":7,"t":2029,"v":31},{"s":"Euro 6d-TEMP","k":7,"t":2030,"v":28},{"s":"Euro 6d-TEMP","k":7,"t":2031,"v":24},{"s":"Euro 6d-TEMP","k":7,"t":2032,"v":20},{"s":"Euro 6d-TEMP","k":7,"t":2033,"v":17},{"s":"Euro 6d-TEMP","k":7,"t":2034,"v":14},{"s":"Euro 6d-TEMP","k":7,"t":2035,"v":11},{"s":"Euro 6d-TEMP","k":7,"t":2036,"v":8},{"s":"Euro 6d-TEMP","k":7,"t":2037,"v":5},{"s":"Euro 6d-TEMP","k":7,"t":2038,"v":4},{"s":"Euro 6d-TEMP","k":7,"t":2039,"v":3},{"s":"Euro 6d-TEMP","k":7,"t":2040,"v":2},
{"s":"Euro 6d","k":8,"t":2022,"v":24},{"s":"Euro 6d","k":8,"t":2023,"v":65},{"s":"Euro 6d","k":8,"t":2024,"v":100},{"s":"Euro 6d","k":8,"t":2025,"v":132},{"s":"Euro 6d","k":8,"t":2026,"v":160},{"s":"Euro 6d","k":8,"t":2027,"v":183},{"s":"Euro 6d","k":8,"t":2028,"v":202},{"s":"Euro 6d","k":8,"t":2029,"v":215},{"s":"Euro 6d","k":8,"t":2030,"v":225},{"s":"Euro 6d","k":8,"t":2031,"v":230},{"s":"Euro 6d","k":8,"t":2032,"v":230},{"s":"Euro 6d","k":8,"t":2033,"v":226},{"s":"Euro 6d","k":8,"t":2034,"v":217},{"s":"Euro 6d","k":8,"t":2035,"v":202},{"s":"Euro 6d","k":8,"t":2036,"v":184},{"s":"Euro 6d","k":8,"t":2037,"v":168},{"s":"Euro 6d","k":8,"t":2038,"v":151},{"s":"Euro 6d","k":8,"t":2039,"v":134},{"s":"Euro 6d","k":8,"t":2040,"v":117}
],
"trk": [
{"s":"Conventional","k":0,"t":2022,"v":1.6},{"s":"Conventional","k":0,"t":2023,"v":1.45},{"s":"Conventional","k":0,"t":2024,"v":1.35},{"s":"Conventional","k":0,"t":2025,"v":1.25},{"s":"Conventional","k":0,"t":2026,"v":1.1},{"s":"Conventional","k":0,"t":2027,"v":1.0},{"s":"Conventional","k":0,"t":2028,"v":0.9},{"s":"Conventional","k":0,"t":2029,"v":0.8},{"s":"Conventional","k":0,"t":2030,"v":0.7},{"s":"Conventional","k":0,"t":2031,"v":0.62},{"s":"Conventional","k":0,"t":2032,"v":0.55},{"s":"Conventional","k":0,"t":2033,"v":0.5},{"s":"Conventional","k":0,"t":2034,"v":0.45},{"s":"Conventional","k":0,"t":2035,"v":0.41},{"s":"Conventional","k":0,"t":2036,"v":0.38},{"s":"Conventional","k":0,"t":2037,"v":0.35},{"s":"Conventional","k":0,"t":2038,"v":0.32},{"s":"Conventional","k":0,"t":2039,"v":0.3},{"s":"Conventional","k":0,"t":2040,"v":0.28},
{"s":"Euro I","k":1,"t":2022,"v":0.3},{"s":"Euro I","k":1,"t":2023,"v":0.3},{"s":"Euro I","k":1,"t":2024,"v":0.25},{"s":"Euro I","k":1,"t":2025,"v":0.2},{"s":"Euro I","k":1,"t":2026,"v":0.2},{"s":"Euro I","k":1,"t":2027,"v":0.15},{"s":"Euro I","k":1,"t":2028,"v":0.1},{"s":"Euro I","k":1,"t":2029,"v":0.1},{"s":"Euro I","k":1,"t":2030,"v":0.1},{"s":"Euro I","k":1,"t":2031,"v":0.1},{"s":"Euro I","k":1,"t":2032,"v":0.1},{"s":"Euro I","k":1,"t":2033,"v":0.08},{"s":"Euro I","k":1,"t":2034,"v":0.07},{"s":"Euro I","k":1,"t":2035,"v":0.06},{"s":"Euro I","k":1,"t":2036,"v":0.05},{"s":"Euro I","k":1,"t":2037,"v":0.05},{"s":"Euro I","k":1,"t":2038,"v":0.05},{"s":"Euro I","k":1,"t":2039,"v":0.05},{"s":"Euro I","k":1,"t":2040,"v":0.05},
{"s":"Euro II","k":2,"t":2022,"v":0.7},{"s":"Euro II","k":2,"t":2023,"v":0.6},{"s":"Euro II","k":2,"t":2024,"v":0.5},{"s":"Euro II","k":2,"t":2025,"v":0.45},{"s":"Euro II","k":2,"t":2026,"v":0.4},{"s":"Euro II","k":2,"t":2027,"v":0.35},{"s":"Euro II","k":2,"t":2028,"v":0.3},{"s":"Euro II","k":2,"t":2029,"v":0.25},{"s":"Euro II","k":2,"t":2030,"v":0.2},{"s":"Euro II","k":2,"t":2031,"v":0.18},{"s":"Euro II","k":2,"t":2032,"v":0.15},{"s":"Euro II","k":2,"t":2033,"v":0.14},{"s":"Euro II","k":2,"t":2034,"v":0.13},{"s":"Euro II","k":2,"t":2035,"v":0.11},{"s":"Euro II","k":2,"t":2036,"v":0.09},{"s":"Euro II","k":2,"t":2037,"v":0.08},{"s":"Euro II","k":2,"t":2038,"v":0.08},{"s":"Euro II","k":2,"t":2039,"v":0.07},{"s":"Euro II","k":2,"t":2040,"v":0.07},
{"s":"Euro III","k":3,"t":2022,"v":2.1},{"s":"Euro III","k":3,"t":2023,"v":1.75},{"s":"Euro III","k":3,"t":2024,"v":1.4},{"s":"Euro III","k":3,"t":2025,"v":1.1},{"s":"Euro III","k":3,"t":2026,"v":0.9},{"s":"Euro III","k":3,"t":2027,"v":0.7},{"s":"Euro III","k":3,"t":2028,"v":0.6},{"s":"Euro III","k":3,"t":2029,"v":0.45},{"s":"Euro III","k":3,"t":2030,"v":0.4},{"s":"Euro III","k":3,"t":2031,"v":0.3},{"s":"Euro III","k":3,"t":2032,"v":0.2},{"s":"Euro III","k":3,"t":2033,"v":0.18},{"s":"Euro III","k":3,"t":2034,"v":0.15},{"s":"Euro III","k":3,"t":2035,"v":0.14},{"s":"Euro III","k":3,"t":2036,"v":0.13},{"s":"Euro III","k":3,"t":2037,"v":0.1},{"s":"Euro III","k":3,"t":2038,"v":0.05},{"s":"Euro III","k":3,"t":2039,"v":0.05},{"s":"Euro III","k":3,"t":2040,"v":0.04},
{"s":"Euro IV","k":4,"t":2022,"v":2.2},{"s":"Euro IV","k":4,"t":2023,"v":1.6},{"s":"Euro IV","k":4,"t":2024,"v":1.3},{"s":"Euro IV","k":4,"t":2025,"v":1.0},{"s":"Euro IV","k":4,"t":2026,"v":0.8},{"s":"Euro IV","k":4,"t":2027,"v":0.6},{"s":"Euro IV","k":4,"t":2028,"v":0.4},{"s":"Euro IV","k":4,"t":2029,"v":0.3},{"s":"Euro IV","k":4,"t":2030,"v":0.2},{"s":"Euro IV","k":4,"t":2031,"v":0.2},{"s":"Euro IV","k":4,"t":2032,"v":0.2},{"s":"Euro IV","k":4,"t":2033,"v":0.15},{"s":"Euro IV","k":4,"t":2034,"v":0.15},{"s":"Euro IV","k":4,"t":2035,"v":0.13},{"s":"Euro IV","k":4,"t":2036,"v":0.1},{"s":"Euro IV","k":4,"t":2037,"v":0.07},{"s":"Euro IV","k":4,"t":2038,"v":0.1},{"s":"Euro IV","k":4,"t":2039,"v":0.08},{"s":"Euro IV","k":4,"t":2040,"v":0.06},
{"s":"Euro V","k":5,"t":2022,"v":4.7},{"s":"Euro V","k":5,"t":2023,"v":3.9},{"s":"Euro V","k":5,"t":2024,"v":3.2},{"s":"Euro V","k":5,"t":2025,"v":2.6},{"s":"Euro V","k":5,"t":2026,"v":2.1},{"s":"Euro V","k":5,"t":2027,"v":1.7},{"s":"Euro V","k":5,"t":2028,"v":1.5},{"s":"Euro V","k":5,"t":2029,"v":1.2},{"s":"Euro V","k":5,"t":2030,"v":1.0},{"s":"Euro V","k":5,"t":2031,"v":0.8},{"s":"Euro V","k":5,"t":2032,"v":0.7},{"s":"Euro V","k":5,"t":2033,"v":0.55},{"s":"Euro V","k":5,"t":2034,"v":0.45},{"s":"Euro V","k":5,"t":2035,"v":0.4},{"s":"Euro V","k":5,"t":2036,"v":0.35},{"s":"Euro V","k":5,"t":2037,"v":0.3},{"s":"Euro V","k":5,"t":2038,"v":0.2},{"s":"Euro V","k":5,"t":2039,"v":0.15},{"s":"Euro V","k":5,"t":2040,"v":0.1},
{"s":"Euro VI","k":6,"t":2022,"v":30.9},{"s":"Euro VI","k":6,"t":2023,"v":32.4},{"s":"Euro VI","k":6,"t":2024,"v":33.6},{"s":"Euro VI","k":6,"t":2025,"v":33.4},{"s":"Euro VI","k":6,"t":2026,"v":33.5},{"s":"Euro VI","k":6,"t":2027,"v":33.5},{"s":"Euro VI","k":6,"t":2028,"v":32.4},{"s":"Euro VI","k":6,"t":2029,"v":30.4},{"s":"Euro VI","k":6,"t":2030,"v":28.2},{"s":"Euro VI","k":6,"t":2031,"v":26.1},{"s":"Euro VI","k":6,"t":2032,"v":24.0},{"s":"Euro VI","k":6,"t":2033,"v":22.2},{"s":"Euro VI","k":6,"t":2034,"v":20.6},{"s":"Euro VI","k":6,"t":2035,"v":19.05},{"s":"Euro VI","k":6,"t":2036,"v":17.8},{"s":"Euro VI","k":6,"t":2037,"v":16.85},{"s":"Euro VI","k":6,"t":2038,"v":16.1},{"s":"Euro VI","k":6,"t":2039,"v":15.4},{"s":"Euro VI","k":6,"t":2040,"v":14.8}
],
"bus": [
{"s":"Conventional","k":0,"t":2022,"v":0.37},{"s":"Conventional","k":0,"t":2023,"v":0.32},{"s":"Conventional","k":0,"t":2024,"v":0.28},{"s":"Conventional","k":0,"t":2025,"v":0.24},{"s":"Conventional","k":0,"t":2026,"v":0.21},{"s":"Conventional","k":0,"t":2027,"v":0.18},{"s":"Conventional","k":0,"t":2028,"v":0.15},{"s":"Conventional","k":0,"t":2029,"v":0.13},{"s":"Conventional","k":0,"t":2030,"v":0.11},{"s":"Conventional","k":0,"t":2031,"v":0.1},{"s":"Conventional","k":0,"t":2032,"v":0.09},{"s":"Conventional","k":0,"t":2033,"v":0.08},{"s":"Conventional","k":0,"t":2034,"v":0.07},{"s":"Conventional","k":0,"t":2035,"v":0.06},{"s":"Conventional","k":0,"t":2036,"v":0.05},{"s":"Conventional","k":0,"t":2037,"v":0.04},{"s":"Conventional","k":0,"t":2038,"v":0.035},{"s":"Conventional","k":0,"t":2039,"v":0.03},{"s":"Conventional","k":0,"t":2040,"v":0.03},
{"s":"Euro I","k":1,"t":2022,"v":0.18},{"s":"Euro I","k":1,"t":2023,"v":0.16},{"s":"Euro I","k":1,"t":2024,"v":0.14},{"s":"Euro I","k":1,"t":2025,"v":0.12},{"s":"Euro I","k":1,"t":2026,"v":0.1},{"s":"Euro I","k":1,"t":2027,"v":0.09},{"s":"Euro I","k":1,"t":2028,"v":0.08},{"s":"Euro I","k":1,"t":2029,"v":0.07},{"s":"Euro I","k":1,"t":2030,"v":0.06},{"s":"Euro I","k":1,"t":2031,"v":0.05},{"s":"Euro I","k":1,"t":2032,"v":0.04},{"s":"Euro I","k":1,"t":2033,"v":0.03},{"s":"Euro I","k":1,"t":2034,"v":0.03},{"s":"Euro I","k":1,"t":2035,"v":0.02},{"s":"Euro I","k":1,"t":2036,"v":0.02},{"s":"Euro I","k":1,"t":2037,"v":0.02},{"s":"Euro I","k":1,"t":2038,"v":0.015},{"s":"Euro I","k":1,"t":2039,"v":0.01},{"s":"Euro I","k":1,"t":2040,"v":0.01},
{"s":"Euro II","k":2,"t":2022,"v":0.9},{"s":"Euro II","k":2,"t":2023,"v":0.72},{"s":"Euro II","k":2,"t":2024,"v":0.58},{"s":"Euro II","k":2,"t":2025,"v":0.49},{"s":"Euro II","k":2,"t":2026,"v":0.41},{"s":"Euro II","k":2,"t":2027,"v":0.33},{"s":"Euro II","k":2,"t":2028,"v":0.27},{"s":"Euro II","k":2,"t":2029,"v":0.23},{"s":"Euro II","k":2,"t":2030,"v":0.2},{"s":"Euro II","k":2,"t":2031,"v":0.17},{"s":"Euro II","k":2,"t":2032,"v":0.14},{"s":"Euro II","k":2,"t":2033,"v":0.12},{"s":"Euro II","k":2,"t":2034,"v":0.1},{"s":"Euro II","k":2,"t":2035,"v":0.09},{"s":"Euro II","k":2,"t":2036,"v":0.07},{"s":"Euro II","k":2,"t":2037,"v":0.05},{"s":"Euro II","k":2,"t":2038,"v":0.04},{"s":"Euro II","k":2,"t":2039,"v":0.03},{"s":"Euro II","k":2,"t":2040,"v":0.02},
{"s":"Euro III","k":3,"t":2022,"v":0.83},{"s":"Euro III","k":3,"t":2023,"v":0.72},{"s":"Euro III","k":3,"t":2024,"v":0.6},{"s":"Euro III","k":3,"t":2025,"v":0.48},{"s":"Euro III","k":3,"t":2026,"v":0.38},{"s":"Euro III","k":3,"t":2027,"v":0.33},{"s":"Euro III","k":3,"t":2028,"v":0.28},{"s":"Euro III","k":3,"t":2029,"v":0.23},{"s":"Euro III","k":3,"t":2030,"v":0.18},{"s":"Euro III","k":3,"t":2031,"v":0.14},{"s":"Euro III","k":3,"t":2032,"v":0.11},{"s":"Euro III","k":3,"t":2033,"v":0.09},{"s":"Euro III","k":3,"t":2034,"v":0.06},{"s":"Euro III","k":3,"t":2035,"v":0.04},{"s":"Euro III","k":3,"t":2036,"v":0.03},{"s":"Euro III","k":3,"t":2037,"v":0.03},{"s":"Euro III","k":3,"t":2038,"v":0.02},{"s":"Euro III","k":3,"t":2039,"v":0.02},{"s":"Euro III","k":3,"t":2040,"v":0.02},
{"s":"Euro IV","k":4,"t":2022,"v":0.77},{"s":"Euro IV","k":4,"t":2023,"v":0.63},{"s":"Euro IV","k":4,"t":2024,"v":0.5},{"s":"Euro IV","k":4,"t":2025,"v":0.42},{"s":"Euro IV","k":4,"t":2026,"v":0.35},{"s":"Euro IV","k":4,"t":2027,"v":0.27},{"s":"Euro IV","k":4,"t":2028,"v":0.22},{"s":"Euro IV","k":4,"t":2029,"v":0.19},{"s":"Euro IV","k":4,"t":2030,"v":0.15},{"s":"Euro IV","k":4,"t":2031,"v":0.12},{"s":"Euro IV","k":4,"t":2032,"v":0.09},{"s":"Euro IV","k":4,"t":2033,"v":0.07},{"s":"Euro IV","k":4,"t":2034,"v":0.06},{"s":"Euro IV","k":4,"t":2035,"v":0.04},{"s":"Euro IV","k":4,"t":2036,"v":0.03},{"s":"Euro IV","k":4,"t":2037,"v":0.02},{"s":"Euro IV","k":4,"t":2038,"v":0.02},{"s":"Euro IV","k":4,"t":2039,"v":0.02},{"s":"Euro IV","k":4,"t":2040,"v":0.02},
{"s":"Euro V","k":5,"t":2022,"v":1.8},{"s":"Euro V","k":5,"t":2023,"v":1.55},{"s":"Euro V","k":5,"t":2024,"v":1.3},{"s":"Euro V","k":5,"t":2025,"v":1.05},{"s":"Euro V","k":5,"t":2026,"v":0.85},{"s":"Euro V","k":5,"t":2027,"v":0.7},{"s":"Euro V","k":5,"t":2028,"v":0.55},{"s":"Euro V","k":5,"t":2029,"v":0.43},{"s":"Euro V","k":5,"t":2030,"v":0.35},{"s":"Euro V","k":5,"t":2031,"v":0.27},{"s":"Euro V","k":5,"t":2032,"v":0.23},{"s":"Euro V","k":5,"t":2033,"v":0.18},{"s":"Euro V","k":5,"t":2034,"v":0.13},{"s":"Euro V","k":5,"t":2035,"v":0.11},{"s":"Euro V","k":5,"t":2036,"v":0.08},{"s":"Euro V","k":5,"t":2037,"v":0.07},{"s":"Euro V","k":5,"t":2038,"v":0.05},{"s":"Euro V","k":5,"t":2039,"v":0.04},{"s":"Euro V","k":5,"t":2040,"v":0.02},
{"s":"Euro VI","k":6,"t":2022,"v":4.65},{"s":"Euro VI","k":6,"t":2023,"v":4.6},{"s":"Euro VI","k":6,"t":2024,"v":4.75},{"s":"Euro VI","k":6,"t":2025,"v":4.8},{"s":"Euro VI","k":6,"t":2026,"v":4.8},{"s":"Euro VI","k":6,"t":2027,"v":4.75},{"s":"Euro VI","k":6,"t":2028,"v":4.7},{"s":"Euro VI","k":6,"t":2029,"v":4.57},{"s":"Euro VI","k":6,"t":2030,"v":4.45},{"s":"Euro VI","k":6,"t":2031,"v":4.3},{"s":"Euro VI","k":6,"t":2032,"v":4.15},{"s":"Euro VI","k":6,"t":2033,"v":3.98},{"s":"Euro VI","k":6,"t":2034,"v":3.85},{"s":"Euro VI","k":6,"t":2035,"v":3.69},{"s":"Euro VI","k":6,"t":2036,"v":3.57},{"s":"Euro VI","k":6,"t":2037,"v":3.42},{"s":"Euro VI","k":6,"t":2038,"v":3.27},{"s":"Euro VI","k":6,"t":2039,"v":3.15},{"s":"Euro VI","k":6,"t":2040,"v":3.03}
]
},
"vconcat": [
 {"hconcat": [
  {"width": 1, "height": 1, "data": {"values": []}, "mark": "point"},
  {"hconcat": [
   {"width": 332, "height": 204, "title": {"text": "Gasoline passenger cars", "dx": 27, "offset": 4},
    "data": {"name": "gpc"}, "mark": "area",
    "encoding": {
     "x": {"field": "t", "type": "quantitative", "scale": {"domain": [2022, 2040], "nice": false, "zero": false}, "axis": {"title": null, "labelPadding": 8}},
     "y": {"field": "v", "type": "quantitative", "stack": "zero", "scale": {"domain": [0, 2000], "nice": false}, "axis": {"values": [0,200,400,600,800,1000,1200,1400,1600,1800,2000], "title": "Veh. no. x 10³", "titlePadding": 6}},
     "color": {"field": "s", "type": "nominal", "scale": {"domain": ["Euro 6d","Euro 6d-TEMP","Euro 6","Euro 5","Euro 4","Euro 3","Euro 2","Euro 1","ECE 15/04","ECE 15/03","ECE 15/02","ECE 15/00-01","PRE ECE"], "range": ["#A9B9D8","#F79646","#4BACC6","#8064A2","#9BBB59","#C0504D","#4F81BD","#CC7B38","#3B8FA3","#66518A","#7B9A47","#3F6BA3","#9E3F3C"]}, "legend": {"legendX": 358, "legendY": -20.5, "rowPadding": 4.6}},
     "order": {"field": "k", "type": "quantitative", "sort": "ascending"}
    }},
   {"width": 357, "height": 208, "title": {"text": "Diesel passenger cars", "dx": 40, "offset": 18},
    "data": {"name": "dpc"}, "mark": "area",
    "encoding": {
     "x": {"field": "t", "type": "quantitative", "scale": {"domain": [2022, 2040], "nice": false, "zero": false}, "axis": {"title": null}},
     "y": {"field": "v", "type": "quantitative", "stack": "zero", "scale": {"domain": [0, 900], "nice": false}, "axis": {"values": [0,100,200,300,400,500,600,700,800,900], "title": "Veh. no. x 10³", "titlePadding": 7}},
     "color": {"field": "s", "type": "nominal", "scale": {"domain": ["Euro 6d","Euro 6d-TEMP","Euro 6","Euro 5","Euro 4","Euro 3","Euro 2","Euro 1","Conventional"], "range": ["#B9D096","#D69392","#95ABD4","#E0853D","#4199B0","#735A98","#8AA84B","#4A73AE","#B24843"]}, "legend": {"legendX": 368, "legendY": 2.5, "rowPadding": 14.15}},
     "order": {"field": "k", "type": "quantitative", "sort": "ascending"}
    }}
  ], "spacing": 23.5, "resolve": {"scale": {"color": "independent", "x": "independent", "y": "independent"}, "legend": {"color": "independent"}}}
 ], "spacing": 0, "resolve": {"scale": {"color": "independent", "x": "independent", "y": "independent"}, "legend": {"color": "independent"}}},
 {"vconcat": [
  {"hconcat": [
   {"width": 1, "height": 1, "data": {"values": []}, "mark": "point"},
   {"hconcat": [
    {"width": 356, "height": 206, "title": {"text": "Gasoline light commercial vehicles", "dx": 33, "offset": 14},
     "data": {"name": "glcv"}, "mark": "area",
     "encoding": {
      "x": {"field": "t", "type": "quantitative", "scale": {"domain": [2022, 2040], "nice": false, "zero": false}, "axis": {"title": null}},
      "y": {"field": "v", "type": "quantitative", "stack": "zero", "scale": {"domain": [0, 40], "nice": false}, "axis": {"values": [0,5,10,15,20,25,30,35,40], "title": "Veh. no. x 10³", "titlePadding": 15}},
      "color": {"field": "s", "type": "nominal", "scale": {"domain": ["Euro 6d","Euro 6d-TEMP","Euro 6","Euro 5","Euro 4","Euro 3","Euro 2","Euro 1","Conventional"], "range": ["#B9D096","#D69392","#95ABD4","#E0853D","#4199B0","#735A98","#8AA84B","#4A73AE","#B24843"]}, "legend": {"legendX": 366, "legendY": 3.4, "rowPadding": 13.85}},
      "order": {"field": "k", "type": "quantitative", "sort": "ascending"}
     }},
    {"width": 340, "height": 207, "title": {"text": "Diesel light commercial vehicles", "dx": 41, "offset": 14},
     "data": {"name": "dlcv"}, "mark": "area",
     "encoding": {
      "x": {"field": "t", "type": "quantitative", "scale": {"domain": [2022, 2040], "nice": false, "zero": false}, "axis": {"title": null}},
      "y": {"field": "v", "type": "quantitative", "stack": "zero", "scale": {"domain": [0, 400], "nice": false}, "axis": {"values": [0,50,100,150,200,250,300,350,400], "title": "Veh. no. x 10³", "titlePadding": 9}},
      "color": {"field": "s", "type": "nominal", "scale": {"domain": ["Euro 6d","Euro 6d-TEMP","Euro 6","Euro 5","Euro 4","Euro 3","Euro 2","Euro 1","Conventional"], "range": ["#B9D096","#D69392","#95ABD4","#E0853D","#4199B0","#735A98","#8AA84B","#4A73AE","#B24843"]}, "legend": {"legendX": 366, "legendY": 3.7, "rowPadding": 13.85}},
      "order": {"field": "k", "type": "quantitative", "sort": "ascending"}
     }}
   ], "spacing": 22.5, "resolve": {"scale": {"color": "independent", "x": "independent", "y": "independent"}, "legend": {"color": "independent"}}}
  ], "spacing": 0, "resolve": {"scale": {"color": "independent", "x": "independent", "y": "independent"}, "legend": {"color": "independent"}}},
  {"hconcat": [
   {"width": 1, "height": 1, "data": {"values": []}, "mark": "point"},
   {"hconcat": [
    {"width": 365, "height": 202, "title": {"text": "Trucks", "dx": 39},
     "data": {"name": "trk"}, "mark": "area",
     "encoding": {
      "x": {"field": "t", "type": "quantitative", "scale": {"domain": [2022, 2040], "nice": false, "zero": false}, "axis": {"title": null}},
      "y": {"field": "v", "type": "quantitative", "stack": "zero", "scale": {"domain": [0, 45], "nice": false}, "axis": {"values": [0,5,10,15,20,25,30,35,40,45], "title": "Veh. no. x 10³", "titlePadding": 6}},
      "color": {"field": "s", "type": "nominal", "scale": {"domain": ["Euro VI","Euro V","Euro IV","Euro III","Euro II","Euro I","Conventional"], "range": ["#95ABD3","#E0853D","#4199B0","#735A98","#8AA84B","#4A73AE","#B24843"]}, "legend": {"legendX": 383, "legendY": 28.7, "rowPadding": 13.6}},
      "order": {"field": "k", "type": "quantitative", "sort": "ascending"}
     }},
    {"width": 368, "height": 206, "title": {"text": "Buses", "dx": 39},
     "data": {"name": "bus"}, "mark": "area",
     "encoding": {
      "x": {"field": "t", "type": "quantitative", "scale": {"domain": [2022, 2040], "nice": false, "zero": false}, "axis": {"title": null}},
      "y": {"field": "v", "type": "quantitative", "stack": "zero", "scale": {"domain": [0, 10], "nice": false}, "axis": {"values": [0,1,2,3,4,5,6,7,8,9,10], "title": "Veh. no. x 10³", "titlePadding": 6}},
      "color": {"field": "s", "type": "nominal", "scale": {"domain": ["Euro VI","Euro V","Euro IV","Euro III","Euro II","Euro I","Conventional"], "range": ["#95ABD3","#E0853D","#4199B0","#735A98","#8AA84B","#4A73AE","#B24843"]}, "legend": {"legendX": 385, "legendY": 31, "rowPadding": 13.8}},
      "order": {"field": "k", "type": "quantitative", "sort": "ascending"}
     }}
   ], "spacing": 24, "resolve": {"scale": {"color": "independent", "x": "independent", "y": "independent"}, "legend": {"color": "independent"}}}
  ], "spacing": 0, "resolve": {"scale": {"color": "independent", "x": "independent", "y": "independent"}, "legend": {"color": "independent"}}}
 ], "spacing": 43, "resolve": {"scale": {"color": "independent", "x": "independent", "y": "independent"}, "legend": {"color": "independent"}}}
],
"spacing": 58,
"resolve": {"scale": {"color": "independent", "x": "independent", "y": "independent"}, "legend": {"color": "independent"}}
}
